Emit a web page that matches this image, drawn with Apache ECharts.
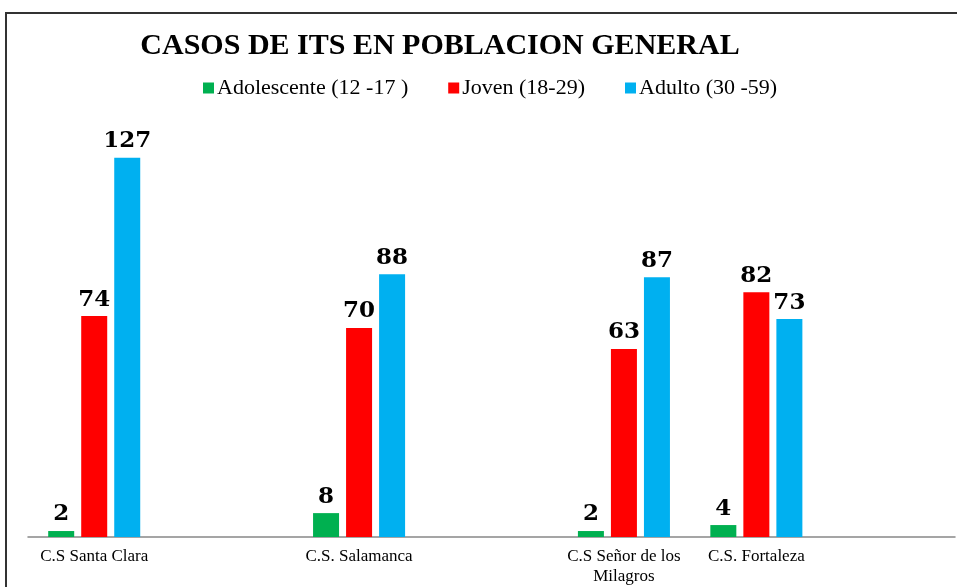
<html>
<head>
<meta charset="utf-8">
<script src="https://cdn.jsdelivr.net/npm/echarts@6/dist/echarts.min.js"></script>
<style>
  html, body { margin: 0; padding: 0; background: #fff; }
  #main { position: absolute; left: 0; top: 0; width: 957px; height: 587px; }
</style>
</head>
<body>
<div id="main"></div>
<script>
// empty slots keep the uneven spacing of the original
var categories = ['C.S Santa Clara', '', 'C.S. Salamanca', '', 'C.S Señor de los\nMilagros', 'C.S. Fortaleza', ''];
var adolescente = [2, null, 8, null, 2, 4, null];
var joven = [74, null, 70, null, 63, 82, null];
var adulto = [127, null, 88, null, 87, 73, null];

var chart = echarts.init(document.getElementById('main'));

var labelStyle = {
    show: true,
    position: 'top',
    distance: 5,
    fontFamily: 'DejaVu Serif',
    fontWeight: 'bold',
    fontSize: 23,
    color: '#000'
};

function bar(name, data, color) {
    return {
        name: name,
        type: 'bar',
        data: data,
        barWidth: 26,
        barGap: '27%',
        itemStyle: { color: color },
        label: labelStyle
    };
}

chart.setOption({
    animation: false,
    title: {
        text: 'CASOS DE ITS EN POBLACION GENERAL',
        left: 435,
        textAlign: 'center',
        top: 26,
        textStyle: {
            fontFamily: 'Liberation Serif',
            fontWeight: 'bold',
            fontSize: 30,
            color: '#000'
        }
    },
    legend: {
        left: 198,
        top: 72,
        itemWidth: 11,
        itemHeight: 11,
        itemGap: 40,
        icon: 'rect',
        textStyle: { fontFamily: 'Liberation Serif', fontSize: 22, color: '#000', padding: [0, 0, 0, -2] },
        data: ['Adolescente (12 -17 )', 'Joven (18-29)', 'Adulto (30 -59)']
    },
    grid: { left: 28, right: 2, top: 119, bottom: 48 },
    xAxis: {
        type: 'category',
        data: categories,
        axisLine: { lineStyle: { color: '#888', width: 1.5 } },
        axisTick: { show: false },
        axisLabel: {
            interval: 0,
            margin: 10,
            fontFamily: 'Liberation Serif',
            fontSize: 17,
            color: '#000',
            lineHeight: 20
        }
    },
    yAxis: {
        type: 'value',
        min: 0,
        max: 140,
        show: false
    },
    graphic: [{
        type: 'rect',
        shape: { x: 6, y: 13, width: 980, height: 620 },
        style: { fill: 'none', stroke: '#333', lineWidth: 2 },
        silent: true
    }],
    series: [
        bar('Adolescente (12 -17 )', adolescente, '#00B050'),
        bar('Joven (18-29)', joven, '#FF0000'),
        bar('Adulto (30 -59)', adulto, '#00B0F0')
    ]
});
</script>
</body>
</html>
